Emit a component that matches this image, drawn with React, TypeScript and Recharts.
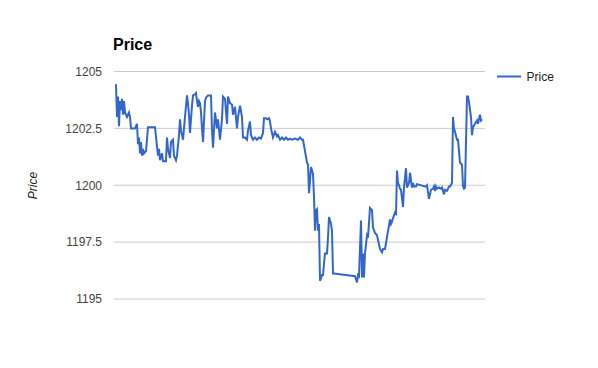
import { CartesianGrid, Line, LineChart, XAxis, YAxis } from "recharts";

// time offsets (minutes from open) and the matching prices
const minutes = [
  1, 2, 3, 4, 5, 6, 7, 8, 9, 10, 11, 12, 13, 15, 16, 17, 21, 23, 24, 25, 26,
  27, 28, 29, 30, 32, 34, 41, 43, 44, 45, 46, 48, 49, 52, 53, 54, 56, 57, 59,
  60, 62, 63, 65, 66, 67, 69, 71, 73, 74, 75, 76, 78, 79, 81, 82, 83, 84, 85,
  86, 87, 88, 89, 91, 92, 94, 97, 98, 99, 101, 103, 104, 106, 108, 109, 111,
  113, 114, 116, 118, 119, 121, 123, 124, 126, 128, 129, 131, 133, 134, 136,
  137, 139, 141, 143, 145, 147, 149, 150, 152, 153, 155, 156, 157, 158, 159,
  161, 163, 164, 166, 168, 170, 172, 174, 176, 178, 181, 184, 186, 188, 189,
  193, 194, 195, 197, 199, 200, 201, 202, 203, 204, 205, 206, 208, 209, 210,
  211, 213, 214, 215, 217, 218, 219, 220, 241, 243, 244, 245, 247, 248, 249,
  250, 251, 253, 254, 256, 258, 259, 261, 263, 264, 266, 268, 269, 271, 276,
  277, 278, 279, 281, 282, 283, 284, 285, 286, 287, 289, 290, 292, 293, 295,
  296, 298, 299, 300, 302, 303, 311, 312, 313, 315, 317, 319, 320, 321, 322,
  323, 325, 327, 328, 330, 331, 333, 335, 336, 338, 339, 340, 341, 343, 344,
  346, 348, 349, 350, 351, 353, 354, 355, 357, 358, 359, 361, 363, 364, 366,
  367, 368, 369, 370,
];

const prices = [
  1204.4, 1204.4, 1203.0, 1203.9, 1202.6, 1203.7, 1203.3, 1203.8, 1203.1,
  1203.7, 1203.2, 1203.1, 1203.0, 1203.2, 1203.0, 1202.5, 1202.5, 1202.7,
  1201.8, 1202.1, 1201.4, 1201.9, 1201.3, 1201.6, 1201.4, 1201.5, 1202.55,
  1202.55, 1201.7, 1201.3, 1201.6, 1201.1, 1201.4, 1201.05, 1201.05, 1202.1,
  1201.6, 1201.2, 1201.9, 1202.0, 1201.3, 1201.1, 1201.3, 1202.2, 1202.9,
  1202.4, 1202.0, 1203.0, 1203.95, 1203.6, 1203.1, 1202.3, 1203.5, 1203.95,
  1204.0, 1204.05, 1203.7, 1203.45, 1203.7, 1203.6, 1203.2, 1202.5, 1201.9,
  1203.7, 1203.85, 1203.95, 1203.95, 1202.4, 1201.65, 1203.2, 1202.5, 1202.9,
  1202.0, 1202.9, 1203.9, 1203.8, 1202.7, 1203.9, 1203.6, 1203.55, 1203.1,
  1203.45, 1202.5, 1203.0, 1203.5, 1203.0, 1202.1, 1202.1, 1202.0, 1202.4,
  1202.8, 1202.2, 1202.0, 1202.1, 1202.0, 1202.1, 1202.05, 1202.3, 1202.95,
  1202.95, 1202.9, 1202.95, 1202.8, 1202.5, 1202.3, 1202.1, 1202.35, 1202.15,
  1202.2, 1202.0, 1202.1, 1202.0, 1202.1, 1202.0, 1202.05, 1202.0, 1202.05,
  1202.0, 1202.1, 1202.0, 1202.0, 1201.0, 1200.9, 1199.65, 1200.8, 1200.5,
  1199.5, 1198.0, 1198.9, 1198.95, 1198.0, 1198.3, 1195.8, 1196.05, 1196.05,
  1196.55, 1197.0, 1197.0, 1197.7, 1198.6, 1198.3, 1198.0, 1196.12, 1196.12,
  1196.0, 1195.73, 1196.05, 1196.0, 1198.45, 1195.95, 1197.0, 1195.95, 1197.0,
  1197.8, 1197.7, 1199.0, 1198.9, 1198.15, 1197.9, 1197.8, 1197.6, 1197.2,
  1197.05, 1197.2, 1197.2, 1198.5, 1198.3, 1198.4, 1198.55, 1198.8, 1198.75,
  1200.65, 1200.1, 1200.0, 1199.85, 1199.8, 1199.05, 1199.9, 1200.75, 1199.9,
  1200.1, 1200.55, 1199.9, 1200.1, 1199.95, 1199.95, 1200.05, 1199.95, 1199.95,
  1200.0, 1199.4, 1199.8, 1199.85, 1199.95, 1199.75, 1199.95, 1199.85, 1199.9,
  1199.85, 1199.9, 1199.6, 1199.8, 1199.75, 1199.95, 1199.95, 1200.1, 1203.0,
  1202.5, 1202.35, 1202.0, 1202.0, 1201.0, 1200.9, 1199.95, 1199.85, 1199.9,
  1203.9, 1203.9, 1203.65, 1203.0, 1202.2, 1202.55, 1202.7, 1202.85, 1202.7,
  1203.1, 1202.85, 1202.9,
];

const yTicks = [1195, 1197.5, 1200, 1202.5, 1205];

const FONT = "Arial, 'Liberation Sans', sans-serif";
const BLUE = "#3366cc";

const data = minutes.map((t, i) => ({ t, price: prices[i] }));

export default function App() {
  return (
    <div
      style={{
        position: "fixed",
        left: 0,
        top: 0,
        width: 598,
        height: 368,
        background: "#ffffff",
      }}
    >
      <LineChart
        width={598}
        height={368}
        data={data}
        margin={{ top: 71.5, right: 113, bottom: 69, left: 54 }}
      >
        <CartesianGrid vertical={false} stroke="#cccccc" />
        <XAxis dataKey="t" type="number" domain={[0, 371]} hide />
        <YAxis
          width={60}
          domain={[1195, 1205]}
          ticks={yTicks}
          axisLine={false}
          tickLine={false}
          tickSize={0}
          tickMargin={12}
          tick={{ fontSize: 12, fontFamily: FONT, fill: "#444444" }}
        />
        <Line
          type="linear"
          dataKey="price"
          name="Price"
          stroke={BLUE}
          strokeWidth={2}
          dot={false}
          isAnimationActive={false}
        />
      </LineChart>
      <svg
        width={598}
        height={368}
        style={{ position: "absolute", left: 0, top: 0, pointerEvents: "none" }}
      >
        <text x={113} y={50} fontSize={16} fontWeight="bold" fontFamily={FONT}>
          Price
        </text>
        <text
          transform="translate(36.5,185.5) rotate(-90)"
          textAnchor="middle"
          fontSize={12}
          fontStyle="italic"
          fontFamily={FONT}
          fill="#222222"
        >
          Price
        </text>
        <line x1={497} x2={521} y1={76.5} y2={76.5} stroke={BLUE} strokeWidth={2} />
        <text x={526.5} y={80.5} fontSize={12} fontFamily={FONT} fill="#222222">
          Price
        </text>
      </svg>
    </div>
  );
}
